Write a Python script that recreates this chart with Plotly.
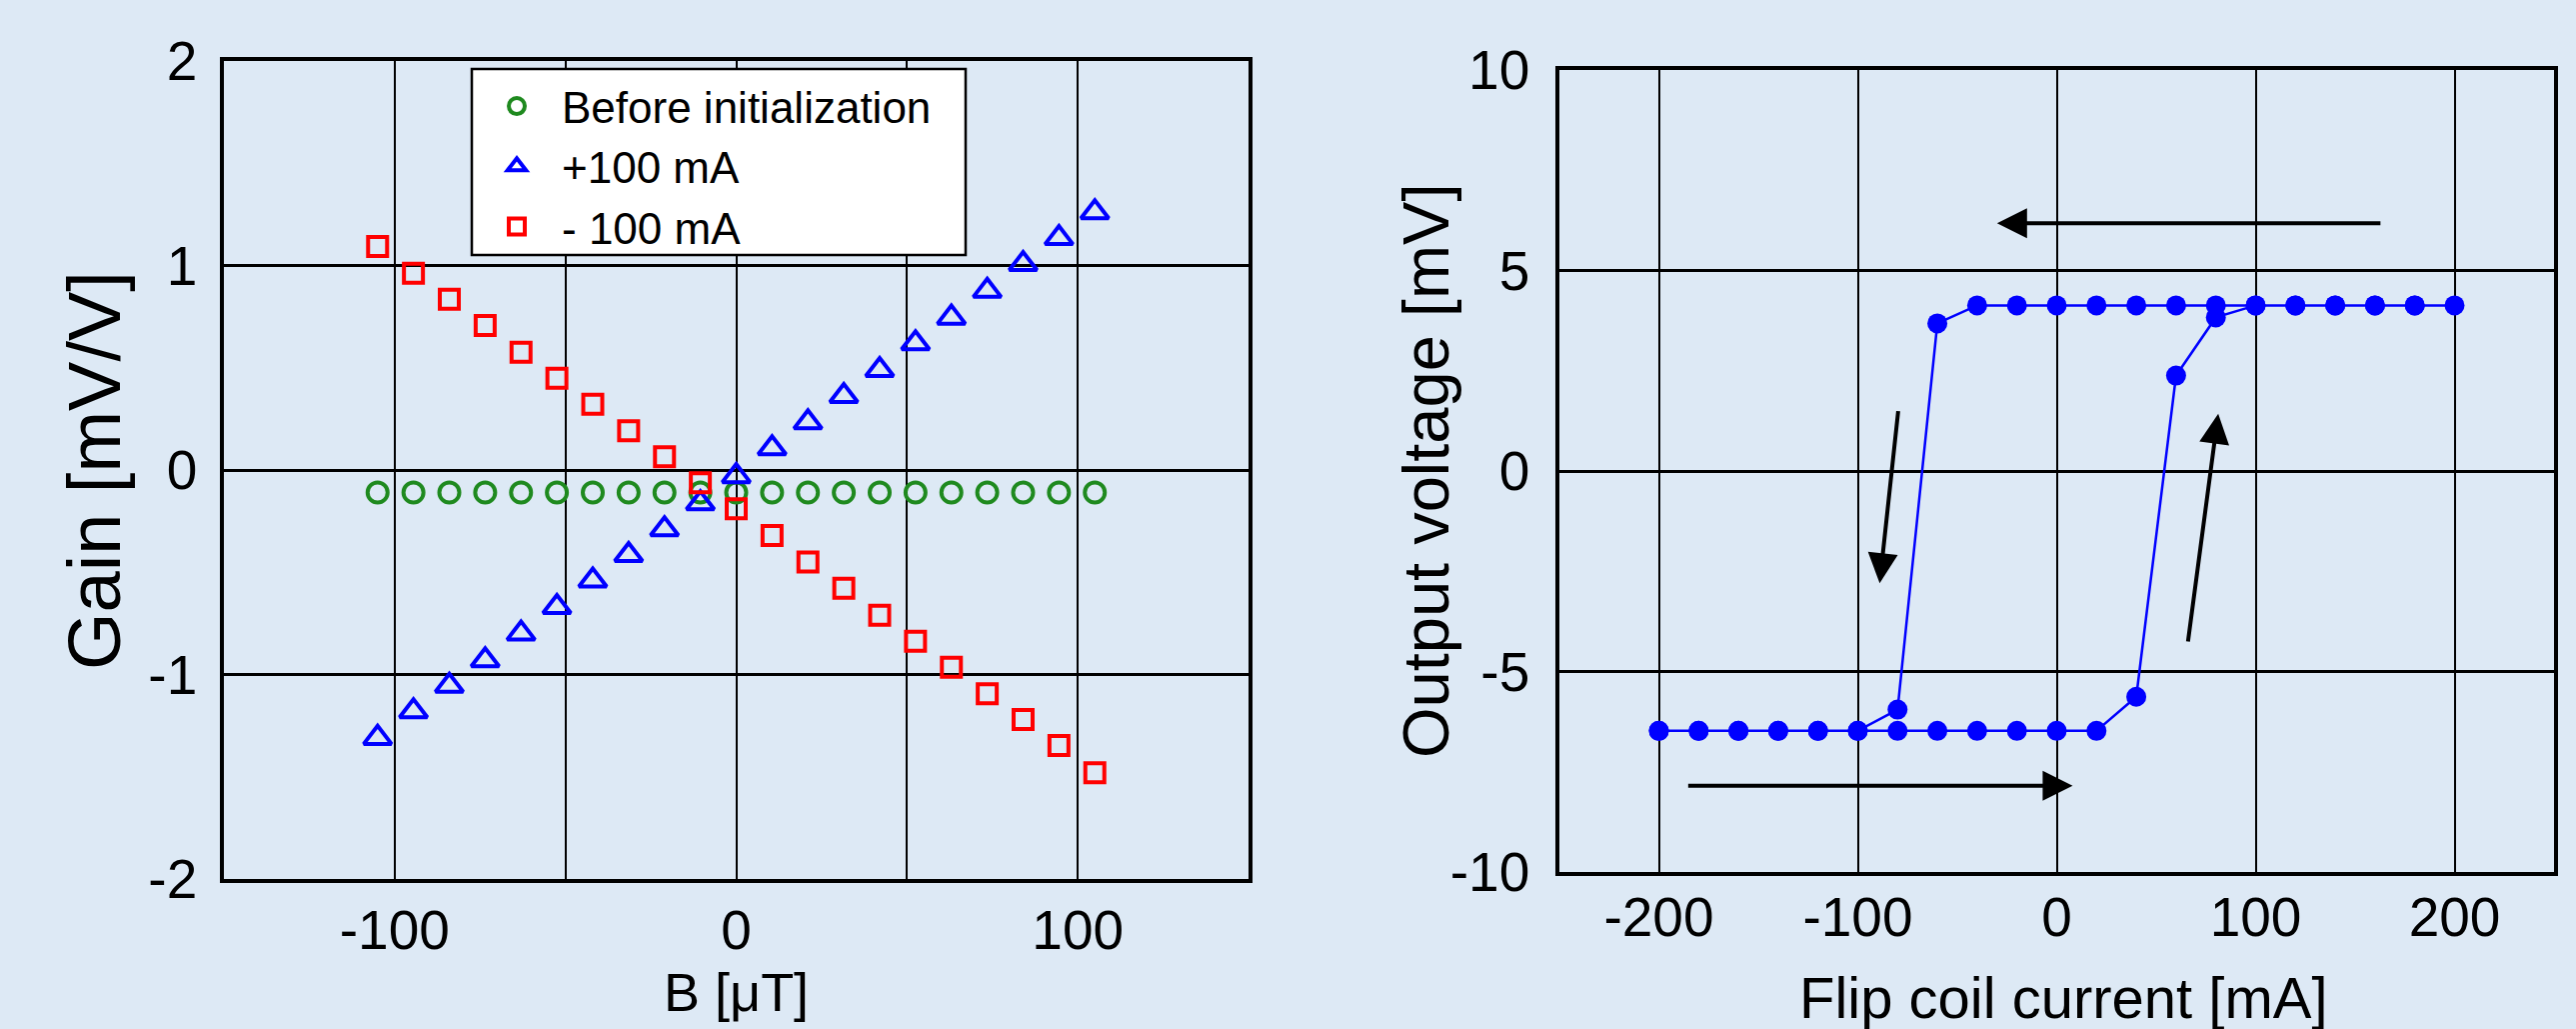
import plotly.graph_objects as go

# ---------------- Data: left panel (Gain vs B) ----------------
b_field = [-105, -94.5, -84, -73.5, -63, -52.5, -42, -31.5, -21, -10.5, 0,
           10.5, 21, 31.5, 42, 52.5, 63, 73.5, 84, 94.5, 105]
gain_before = [-0.11, -0.11, -0.11, -0.11, -0.11, -0.11, -0.11, -0.11, -0.11, -0.11, -0.11,
               -0.11, -0.11, -0.11, -0.11, -0.11, -0.11, -0.11, -0.11, -0.11, -0.11]
gain_plus = [-1.31, -1.18, -1.055, -0.93, -0.80, -0.67, -0.54, -0.416, -0.29, -0.163, -0.03,
             0.106, 0.233, 0.362, 0.489, 0.62, 0.745, 0.876, 1.007, 1.134, 1.26]
gain_minus = [1.093, 0.962, 0.835, 0.706, 0.576, 0.449, 0.321, 0.192, 0.065, -0.062, -0.19,
              -0.32, -0.45, -0.578, -0.71, -0.837, -0.965, -1.094, -1.22, -1.347, -1.48]
series_names = ["Before initialization", "+100 mA", "- 100 mA"]

# ---------------- Data: right panel (hysteresis loop) ----------------
coil_current = [-200, -180, -160, -140, -120, -100, -80, -60, -40, -20, 0, 20,
                40, 60, 80, 100, 120, 140, 160, 180, 200,
                180, 160, 140, 120, 100, 80, 60, 40, 20, 0, -20, -40,
                -60, -80, -100, -120, -140, -160, -180, -200]
output_voltage = [-6.48, -6.48, -6.48, -6.48, -6.48, -6.48, -6.48, -6.48, -6.48, -6.48, -6.48, -6.48,
                  -5.63, 2.38, 3.83, 4.13, 4.13, 4.13, 4.13, 4.13, 4.13,
                  4.13, 4.13, 4.13, 4.13, 4.13, 4.13, 4.13, 4.13, 4.13, 4.13, 4.13, 4.13,
                  3.68, -5.95, -6.48, -6.48, -6.48, -6.48, -6.48, -6.48]

# Direction arrows (tail -> tip), in data units of the right panel
arrow_tail_x = [163.5, -186, -79.6, 65.9]
arrow_tail_y = [6.18, -7.85, 1.53, -4.29]
arrow_tip_x = [-30, 8, -89, 81.2]
arrow_tip_y = [6.18, -7.85, -2.8, 1.43]

# Tick labels
left_xticks = [-100, -50, 0, 50, 100]
left_xticktext = ["-100", "", "0", "", "100"]
left_yticks = [-2, -1, 0, 1, 2]
left_yticktext = ["-2", "-1", "0", "1", "2"]
right_xticks = [-200, -100, 0, 100, 200]
right_xticktext = ["-200", "-100", "0", "100", "200"]
right_yticks = [-10, -5, 0, 5, 10]
right_yticktext = ["-10", "-5", "0", "5", "10"]

BG = "#dde9f5"
FONT = "Liberation Sans, Arial, sans-serif"
W, H = 2577, 1029

fig = go.Figure()

fig.add_trace(go.Scatter(
    x=b_field, y=gain_before, mode="markers", name=series_names[0],
    marker=dict(symbol="circle-open", size=20, color="#1f8a1f", line=dict(width=4)),
    xaxis="x", yaxis="y"))
fig.add_trace(go.Scatter(
    x=b_field, y=gain_plus, mode="markers", name=series_names[1],
    marker=dict(symbol="triangle-up-open", size=24, color="#0000ff", line=dict(width=4)),
    xaxis="x", yaxis="y"))
fig.add_trace(go.Scatter(
    x=b_field, y=gain_minus, mode="markers", name=series_names[2],
    marker=dict(symbol="square-open", size=19, color="#ff0000", line=dict(width=4)),
    xaxis="x", yaxis="y"))

fig.add_trace(go.Scatter(
    x=coil_current, y=output_voltage, mode="lines+markers", showlegend=False,
    line=dict(color="#0000ff", width=2.5),
    marker=dict(symbol="circle", size=20, color="#0000ff"),
    xaxis="x2", yaxis="y2"))

x_common = dict(
    showline=True, mirror=True, linecolor="black", linewidth=3.5,
    showgrid=True, gridcolor="black", gridwidth=2,
    zeroline=False, ticks="", automargin=False,
    tickfont=dict(family=FONT, size=55, color="black"),
)
y_common = dict(x_common, gridwidth=3)

fig.update_layout(
    width=W, height=H,
    margin=dict(l=0, r=0, t=0, b=0, pad=0),
    autosize=False,
    paper_bgcolor=BG, plot_bgcolor=BG,
    font=dict(family=FONT, color="black"),
    xaxis=dict(domain=[224 / W, 1249 / W], range=[-150, 150],
               tickmode="array", tickvals=left_xticks, ticktext=left_xticktext,
               ticklabelstandoff=0, anchor="y", **x_common),
    yaxis=dict(domain=[(H - 879) / H, (H - 61) / H], range=[-2, 2],
               tickmode="array", tickvals=left_yticks, ticktext=left_yticktext,
               ticklabelstandoff=12, anchor="x", **y_common),
    xaxis2=dict(domain=[1560 / W, 2555 / W], range=[-250, 250],
                tickmode="array", tickvals=right_xticks, ticktext=right_xticktext,
                ticklabelstandoff=-6, anchor="y2", **x_common),
    yaxis2=dict(domain=[(H - 872) / H, (H - 70) / H], range=[-10, 10],
                tickmode="array", tickvals=right_yticks, ticktext=right_yticktext,
                ticklabelstandoff=15, anchor="x2", **y_common),
    legend=dict(
        x=472 / W, y=(H - 71) / H, xanchor="left", yanchor="top",
        bgcolor="rgba(0,0,0,0)", borderwidth=0,
        font=dict(family=FONT, size=44, color="black"),
        itemwidth=80, tracegroupgap=0,
    ),
    showlegend=True,
)

# Legend frame (white box with black border behind the legend entries)
fig.add_shape(type="rect", xref="paper", yref="paper",
              x0=472 / W, x1=966 / W, y0=(H - 255) / H, y1=(H - 69) / H,
              fillcolor="white", line=dict(color="black", width=2.5), layer="above")

# Axis titles
titles = [
    dict(text="Gain [mV/V]", x=94 / W, y=(H - 471) / H, textangle=-90, size=74),
    dict(text="B [μT]", x=736 / W, y=(H - 992) / H, textangle=0, size=54),
    dict(text="Output voltage [mV]", x=1426 / W, y=(H - 471) / H, textangle=-90, size=65),
    dict(text="Flip coil current [mA]", x=2064 / W, y=(H - 997) / H, textangle=0, size=58),
]
for t in titles:
    fig.add_annotation(
        text=t["text"], x=t["x"], y=t["y"], xref="paper", yref="paper",
        xanchor="center", yanchor="middle", textangle=t["textangle"],
        showarrow=False, font=dict(family=FONT, size=t["size"], color="black"))

# Arrows on the hysteresis panel
for tx, ty, hx, hy in zip(arrow_tail_x, arrow_tail_y, arrow_tip_x, arrow_tip_y):
    fig.add_annotation(
        x=hx, y=hy, ax=tx, ay=ty, xref="x2", yref="y2", axref="x2", ayref="y2",
        text="", showarrow=True, arrowhead=2, arrowsize=1.5, arrowwidth=4,
        arrowcolor="black")

fig.write_html("out.html")
